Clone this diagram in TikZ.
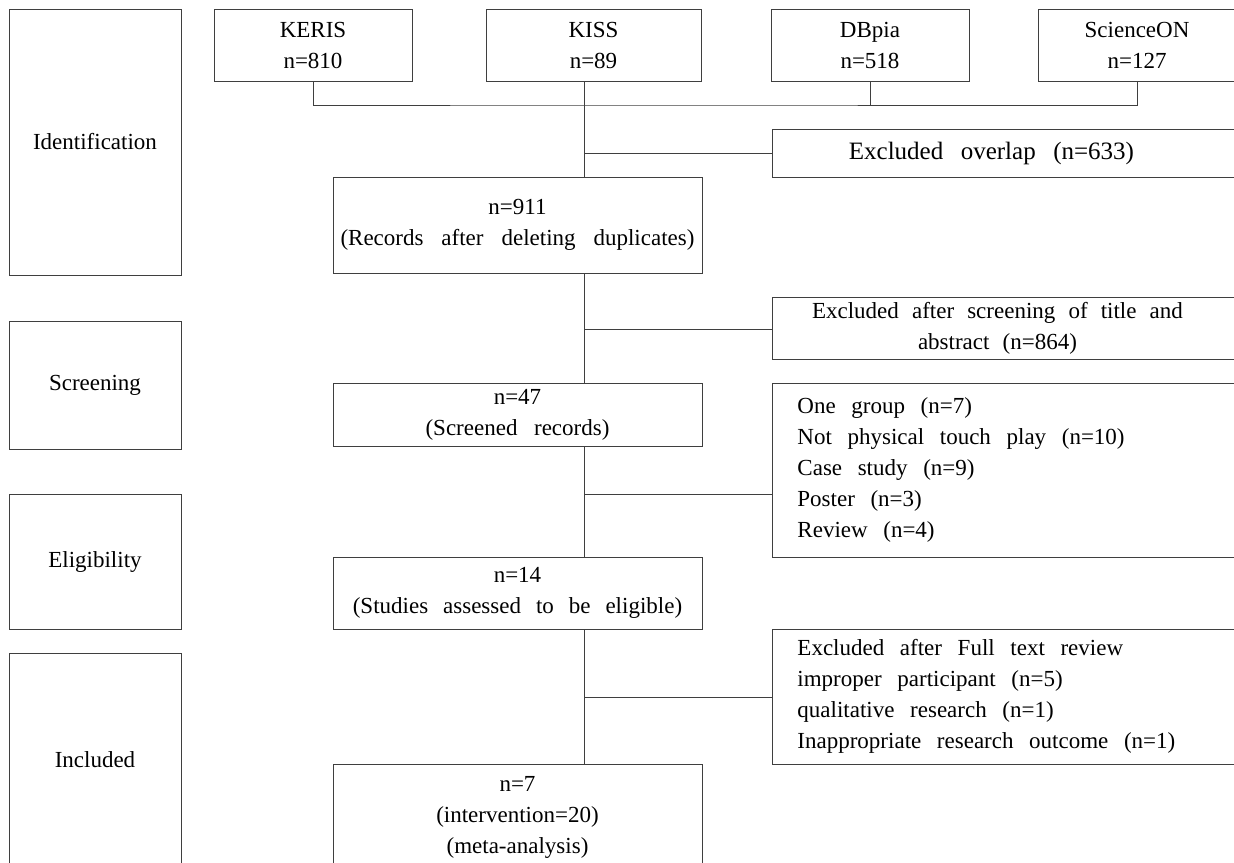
\documentclass[tikz,border=0pt]{standalone}
\usepackage{fontspec}
\setmainfont{Liberation Serif}
\definecolor{FlowLine}{HTML}{3F3F3F}
\newcommand\flowfont{\fontsize{23pt}{31pt}\selectfont}

\begin{document}
\begin{tikzpicture}[x=1pt,y=-1pt,
  gap/.style={execute at begin node={\spaceskip=#1\relax}},
  box/.style={draw=FlowLine,line width=0.9pt,inner sep=0pt,align=center,font=\flowfont,gap=0.72em},
  stage/.style={box,minimum width=172pt},
  src/.style={box,minimum height=72pt},
  mid/.style={box,minimum width=369pt},
  excl/.style={box,anchor=west,minimum width=480pt},
  reasons/.style={excl,align=left,text width=430pt,inner xsep=25pt,gap=0.68em},
  link/.style={draw=FlowLine,line width=0.9pt}]
\useasboundingbox (0,0) rectangle (1234,862);
\clip (0,0) rectangle (1234,862);
% stages
\node[stage,minimum height=266pt] (ident) at (95,142) {Identification};
\node[stage,minimum height=128pt] (screen) at (95,385) {Screening};
\node[stage,minimum height=135pt] (elig) at (95,561.5) {Eligibility};
\node[stage,minimum height=214pt] (incl) at (95,760) {Included};
% databases
\node[src,minimum width=198pt] (keris) at (313,45) {KERIS\\n=810};
\node[src,minimum width=215pt] (kiss) at (593.5,45) {KISS\\n=89};
\node[src,minimum width=198pt] (dbpia) at (870,45) {DBpia\\n=518};
\node[src,minimum width=198pt] (scion) at (1137,45) {ScienceON\\n=127};
% main column
\node[mid,minimum height=96pt,gap=0.78em] (n911) at (517.5,225) {n=911\\(Records after deleting duplicates)};
\node[mid,minimum height=63pt] (n47) at (517.5,414.5) {n=47\\(Screened records)};
\node[mid,minimum height=72pt,gap=0.65em] (n14) at (517.5,593) {n=14\\(Studies assessed to be eligible)};
\node[mid,minimum height=106pt] (n7) at (517.5,817) {n=7\\(intervention=20)\\(meta-analysis)};
% exclusions
\node[excl,minimum height=48pt,font=\fontsize{25pt}{31pt}\selectfont,gap=0.7em] (ovl) at (772,153)
  {Excluded overlap (n=633)\hspace*{42pt}};
\node[excl,minimum height=62pt,gap=0.57em] (tit) at (772,328)
  {Excluded after screening of title and\hspace*{30pt}\\abstract (n=864)\hspace*{30pt}};
\node[reasons,minimum height=174pt] (rsn) at (772,470)
  {One group (n=7)\\Not physical touch play (n=10)\\Case study (n=9)\\Poster (n=3)\\Review (n=4)};
\node[reasons,minimum height=135pt] (full) at (772,696.5)
  {Excluded after Full text review\\improper participant (n=5)\\qualitative research (n=1)\\Inappropriate research outcome (n=1)};
% joins
\coordinate (bus) at (584,105);
\coordinate (j1) at (584,153);
\coordinate (j2) at (584,329);
\coordinate (j3) at (584,494);
\coordinate (j4) at (584,697);
\draw[link] (keris.south) |- (bus) -| (scion.south);
\draw[link] (dbpia.south) -- (dbpia.south |- bus);
\draw[link] (kiss.south -| bus) -- (n911.north -| bus);
\draw[link] (n911.south -| bus) -- (n47.north -| bus);
\draw[link] (n47.south -| bus) -- (n14.north -| bus);
\draw[link] (n14.south -| bus) -- (n7.north -| bus);
\draw[link] (j1) -- (ovl.west);
\draw[link] (j2) -- (j2 -| tit.west);
\draw[link] (j3) -- (j3 -| rsn.west);
\draw[link] (j4) -- (j4 -| full.west);
\end{tikzpicture}
\end{document}
